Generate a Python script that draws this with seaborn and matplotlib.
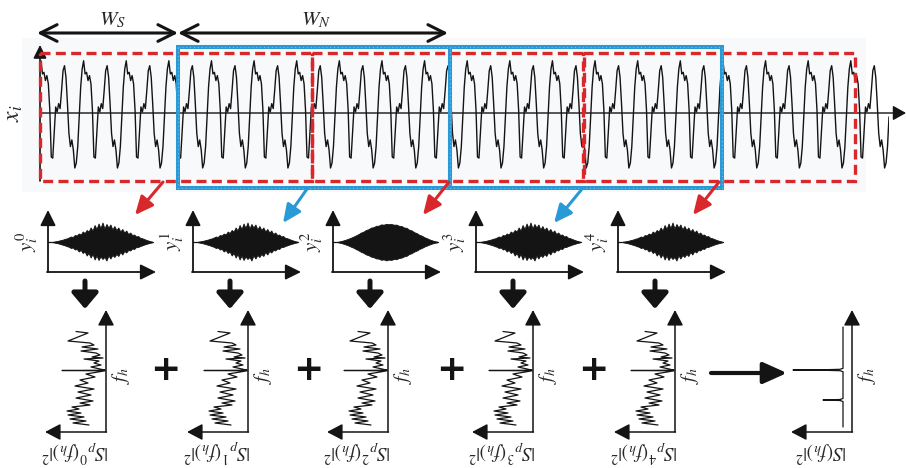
import numpy as np
import matplotlib
matplotlib.use("Agg")
import matplotlib.pyplot as plt
from matplotlib.patches import Rectangle
import seaborn as sns

sns.set_theme(style="white")
plt.rcParams["font.family"] = ["DejaVu Sans"]
plt.rcParams["mathtext.fontset"] = "stix"

# ---------------------------------------------------------------- data
# one cycle of the measured signal x_i (normalised amplitude)
x_cycle = [0.95, 0.71, 0.74, 0.59, 0.68, 0.53, 0.05, -0.80, -0.82, -0.37,
           0.11, 0.02, 0.17, 0.08, 0.41, 0.77, 0.86, 0.65, 0.17, -0.37,
           -0.61, -0.49, -0.67, -1.0, -0.91, -0.61, -0.07, 0.47, 0.80]
n_cycles = 20

# envelope of the windowed segments y_i^k (upper / lower extent)
y_env_up = [0.3, 0.6, 1.0, 1.4, 2.0, 2.4, 3.2, 3.6, 4.5, 5.5, 5.0, 7.0, 6.5,
            8.5, 7.5, 10.5, 9.0, 12.0, 10.5, 14.5, 11.5, 17.0, 13.0, 18.5,
            14.0, 19.5, 13.5, 18.0, 14.5, 17.5, 12.5, 16.0, 12.0, 14.5, 10.5,
            13.0, 9.5, 11.5, 8.0, 9.5, 7.0, 7.5, 5.5, 6.0, 4.2, 3.8, 3.0, 2.2,
            1.5, 0.9, 0.4]
y_env_dn = [0.3, 0.7, 1.1, 1.6, 2.2, 2.8, 3.4, 4.2, 4.8, 6.0, 5.5, 7.5, 7.0,
            9.5, 8.0, 11.0, 9.5, 13.5, 11.0, 15.5, 12.0, 17.5, 13.5, 18.0,
            14.5, 17.0, 15.0, 18.5, 13.5, 16.5, 13.0, 15.0, 12.0, 14.0, 10.0,
            12.5, 9.0, 10.5, 8.0, 8.5, 6.5, 7.0, 5.0, 5.0, 4.0, 3.4, 2.6, 2.0,
            1.4, 0.8, 0.4]
y_env_up_dense = [0.3, 0.8, 1.5, 2.3, 3.2, 4.2, 5.3, 6.5, 7.8, 9.4, 10.3,
                  12.0, 12.8, 14.4, 14.8, 16.2, 16.3, 17.6, 17.3, 18.2, 17.8,
                  18.0, 17.3, 17.4, 16.2, 16.0, 14.5, 14.2, 12.3, 11.6, 9.8,
                  8.9, 7.2, 6.3, 4.8, 3.8, 2.6, 1.7, 0.9, 0.4]
y_env_dn_dense = [0.3, 0.9, 1.6, 2.5, 3.4, 4.6, 5.6, 7.0, 8.2, 9.8, 10.8,
                  12.4, 13.2, 14.6, 15.2, 16.4, 16.6, 17.8, 17.4, 18.4, 17.6,
                  17.9, 17.0, 17.2, 16.0, 15.6, 14.4, 13.8, 12.0, 11.2, 9.6,
                  8.6, 7.0, 6.0, 4.6, 3.6, 2.5, 1.6, 0.8, 0.4]
y_names = ["0", "1", "2", "3", "4"]

# short-time power spectra |S_p^k(f_h)|^2 (frequency, magnitude)
spec_f = [7, 9, 11, 13, 15, 17, 19, 21, 23, 25, 27, 29, 31, 34, 37, 40, 43,
          46, 49, 52, 55, 58, 60, 61.2, 61.5, 61.8, 63, 65, 67, 69, 71, 73,
          74, 75, 77, 79, 81, 83, 85, 87, 89, 91, 99, 100.5]
spec_mag = [17, 33, 20, 36, 22, 38, 25, 39, 27, 34, 16, 26, 13, 30, 15, 28,
            12, 31, 18, 26, 11, 20, 8, 1, 44, 1, 6, 15, 5, 12, 7, 22, 3, 14,
            6, 10, 25, 8, 24, 12, 16, 38, 18, 30]

# averaged spectrum |S(f_h)|^2
avg_f = [5, 30.5, 31.5, 32, 32.5, 33.5, 60.3, 61.3, 61.8, 62, 62.2, 62.7,
         63.7, 105]
avg_mag = [9, 9, 12, 29, 12, 9, 9, 12, 30, 59, 30, 12, 9, 9]

# ---------------------------------------------------------------- layout
W, H = 906, 468
fig = plt.figure(figsize=(W / 100, H / 100), dpi=100)

RED = "#d9282c"
BLUE = "#2a9ad6"
INK = "#141414"


def px_axes(x0, y0, x1, y1):
    a = fig.add_axes([x0 / W, 1 - y1 / H, (x1 - x0) / W, (y1 - y0) / H])
    a.set_axis_off()
    a.patch.set_alpha(0)
    return a


# faint backdrop behind the recorded signal
bg = px_axes(0, 0, W, H)
bg.set_xlim(0, W)
bg.set_ylim(H, 0)
bg.add_patch(Rectangle((22, 38), 844, 154, facecolor="#f8f9fb",
                       edgecolor="none"))

# recorded signal x_i
sig = np.tile(x_cycle, n_cycles)[:-2]
ax_sig = px_axes(41, 45, 889, 181)
sns.lineplot(x=np.arange(len(sig)), y=sig, ax=ax_sig, color=INK, lw=1.0,
             sort=False, estimator=None, legend=False)
ax_sig.set_xlim(0, len(sig) - 1)
ax_sig.set_ylim(-68 / 55, 68 / 55)
ax_sig.set_axis_off()

# windowed segments y_i^k
seg_x = [48, 193, 333, 476, 618]
for k, x0 in enumerate(seg_x):
    a = px_axes(x0, 212, x0 + 107, 272)
    up = y_env_up_dense if k == 2 else y_env_up
    dn = y_env_dn_dense if k == 2 else y_env_dn
    xu = np.linspace(5, 104, len(up))
    xd = np.linspace(5, 104, len(dn))
    a.fill_between(xu, 0, up, color=INK, lw=0.6, edgecolor=INK)
    a.fill_between(xd, [-v for v in dn], 0, color=INK, lw=0.6, edgecolor=INK)
    a.plot([0, 105], [0, 0], color=INK, lw=0.9)
    a.set_xlim(0, 107)
    a.set_ylim(-30, 30)

# spectra of each segment
spec_x = [106, 248, 388, 533, 675]
for x0 in spec_x:
    a = px_axes(x0 - 62, 312, x0, 432)
    sns.lineplot(x=spec_mag, y=spec_f, ax=a, color=INK, lw=0.9, sort=False,
                 estimator=None, legend=False)
    a.set_xlim(62, 0)
    a.set_ylim(0, 120)
    a.set_axis_off()

# averaged spectrum
avg_x0 = 852
a = px_axes(avg_x0 - 62, 312, avg_x0, 432)
sns.lineplot(x=avg_mag, y=avg_f, ax=a, color=INK, lw=0.9, sort=False,
             estimator=None, legend=False)
a.set_xlim(62, 0)
a.set_ylim(0, 120)
a.set_axis_off()

# ---------------------------------------------------------------- overlay
ov = px_axes(0, 0, W, H)
ov.set_xlim(0, W)
ov.set_ylim(H, 0)


def arrow(x0, y0, x1, y1, color=INK, lw=1.2, hl=0.9, hw=0.45,
          style="-|>", z=5):
    ov.annotate("", xy=(x1, y1), xytext=(x0, y0), xycoords="data",
                arrowprops=dict(arrowstyle=f"{style},head_length={hl},"
                                f"head_width={hw}",
                                color=color, lw=lw, shrinkA=0, shrinkB=0,
                                mutation_scale=10),
                zorder=z)


# axes of the recorded signal
arrow(40, 181, 40, 45, lw=1.2, hl=0.8, hw=0.4, z=2)
arrow(40, 113, 906, 113, lw=1.0, hl=0.8, hw=0.45, z=2)

# window extents
arrow(37, 33, 178, 33, lw=2.2, hl=1.2, hw=0.6, style="<->")
arrow(178, 33, 448, 33, lw=2.2, hl=1.2, hw=0.6, style="<->")
ov.text(112, 20, r"$W_S$", fontsize=15, ha="center", va="center")
ov.text(316, 20, r"$W_N$", fontsize=15, ha="center", va="center")
ov.text(13, 113, r"$x_i$", fontsize=17, ha="center", va="center",
        rotation=90)

# analysis windows
for x0 in [40, 312, 583]:
    ov.add_patch(Rectangle((x0, 53), 272, 128, fill=False, edgecolor=RED,
                           lw=2.4, linestyle=(0, (3, 1.6)), zorder=3))
for x0 in [178, 450]:
    ov.add_patch(Rectangle((x0, 47), 272, 141, fill=False, edgecolor=BLUE,
                           lw=2.9, zorder=4))
    ov.add_patch(Rectangle((x0, 47), 272, 141, fill=False,
                           edgecolor="#7cc3ea", lw=0.7,
                           linestyle=(0, (1, 3)), zorder=4))

# window -> segment arrows
arrow(163, 182, 135, 215, color=RED, lw=2.2, hl=1.1, hw=0.5)
arrow(307, 189, 283, 223, color=BLUE, lw=2.2, hl=1.1, hw=0.5)
arrow(449, 182, 423, 215, color=RED, lw=2.2, hl=1.1, hw=0.5)
arrow(582, 189, 554, 223, color=BLUE, lw=2.2, hl=1.1, hw=0.5)
arrow(719, 182, 693, 215, color=RED, lw=2.2, hl=1.1, hw=0.5)

# segment panels
for k, x0 in enumerate(seg_x):
    arrow(x0, 272, x0, 210, lw=1.3, hl=0.95, hw=0.47)
    arrow(x0 - 1, 272, x0 + 108, 272, lw=1.3, hl=0.95, hw=0.47)
    ov.text(x0 - 21, 242, rf"$y_i^{{{y_names[k]}}}$", fontsize=15,
            ha="center", va="center", rotation=90)
    arrow(x0 + 37, 281, x0 + 37, 309, lw=3.6, hl=0.95, hw=0.8)

# spectrum panels
for k, x0 in enumerate(spec_x + [avg_x0]):
    arrow(x0, 432, x0, 310, lw=1.1, hl=0.95, hw=0.5)
    arrow(x0 + 0.5, 432, x0 - 61, 432, lw=1.1, hl=0.95, hw=0.5)
    ov.text(x0 + 15, 376, r"$f_h$", fontsize=14, ha="center", va="center",
            rotation=90)
    if k < 5:
        lab = rf"$|S_p{{}}^{{{y_names[k]}}}(f_h)|^2$"
    else:
        lab = r"$|S(f_h)|^2$"
    ov.text(x0 - 31, 451, lab, fontsize=14, ha="center", va="center",
            rotation=180)

for xp in [165, 308, 451, 593]:
    ov.text(xp, 370, "+", fontsize=26, fontweight="bold", ha="center",
            va="center", color=INK)

arrow(711, 373, 787, 373, lw=3.0, hl=1.45, hw=0.65)

fig.savefig("out.png", dpi=100)
